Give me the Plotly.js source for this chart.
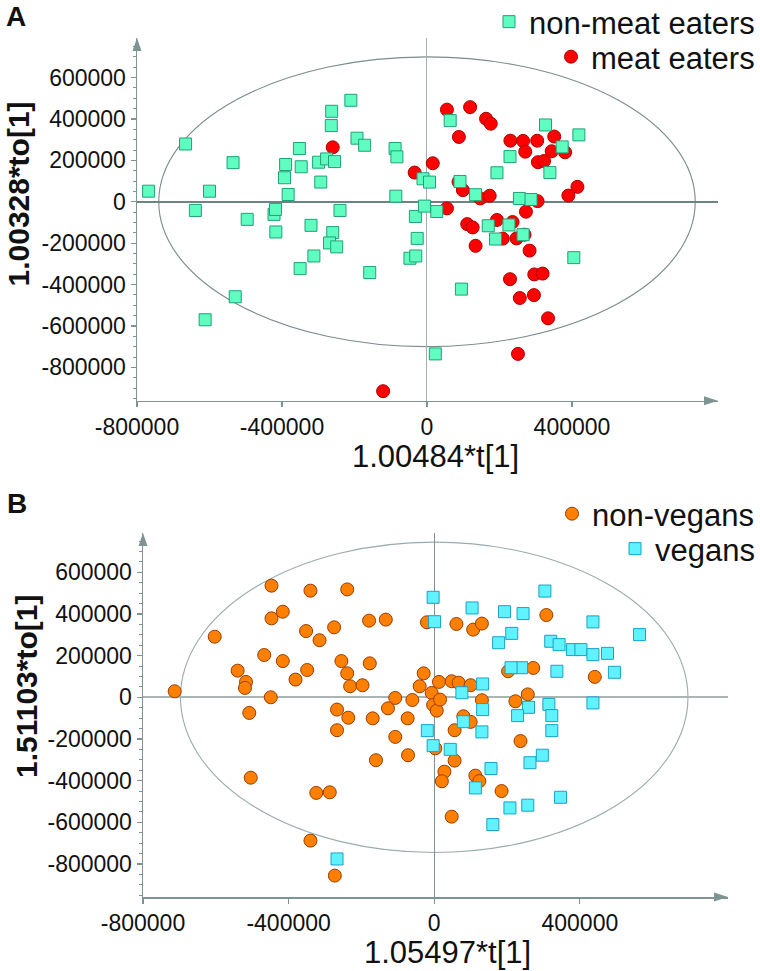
<!DOCTYPE html>
<html><head><meta charset="utf-8">
<script src="https://cdn.plot.ly/plotly-3.0.1.min.js"></script>
<style>html,body{margin:0;padding:0;background:#fff}#chart{width:760px;height:971px}</style>
</head><body><div id="chart"></div>
<script>
// ---------- Panel A: meat eaters vs non-meat eaters ----------
const xNonMeat = [-768000,-666000,-639000,-600000,-612000,-535000,-529000,-496000,-422000,-418000,-417000,-393000,-390000,-383000,-352000,-347000,-350000,-320000,-312000,-299000,-293000,-277000,-255000,-263000,-264000,-260000,-269000,-249000,-240000,-210000,-193000,-172000,-158000,-88000,-83000,-86000,-47000,-31000,-32000,-27000,-11000,7000,-7000,27000,23000,64000,91000,134000,95000,169000,189000,193000,226000,229000,255000,265000,287000,327000,339000,373000,405000,419000];
const yNonMeat = [51000,279000,-42000,51000,-570000,189000,-459000,-85000,-61000,-37000,-146000,116000,180000,35000,257000,169000,-323000,-114000,-262000,191000,95000,207000,194000,437000,368000,-149000,-199000,-218000,-42000,490000,307000,273000,-342000,257000,217000,27000,-273000,-262000,-71000,-177000,111000,95000,-21000,-47000,-735000,392000,98000,34000,-422000,-116000,-180000,140000,-112000,218000,16000,-159000,11000,371000,141000,265000,-270000,323000];
const xMeat = [-260000,-121000,-34000,16000,55000,119000,88000,163000,176000,55000,87000,99000,147000,173000,111000,126000,134000,193000,236000,209000,247000,269000,273000,283000,305000,229000,296000,319000,256000,295000,334000,251000,230000,265000,304000,271000,306000,323000,351000,344000,381000,390000,415000];
const yMeat = [263000,-915000,141000,186000,445000,457000,313000,401000,377000,-32000,96000,56000,16000,29000,-108000,-124000,-213000,-88000,-98000,-178000,-177000,-159000,-48000,-236000,3000,-374000,-351000,-347000,-465000,-451000,-563000,-735000,295000,294000,295000,242000,191000,197000,315000,244000,239000,30000,72000];

// ---------- Panel B: vegans vs non-vegans ----------
const xNonVegan = [-713000,-603000,-540000,-517000,-520000,-508000,-504000,-467000,-449000,-447000,-447000,-416000,-416000,-381000,-352000,-349000,-340000,-324000,-315000,-287000,-340000,-275000,-273000,-267000,-267000,-255000,-239000,-239000,-236000,-231000,-197000,-179000,-177000,-169000,-160000,-133000,-127000,-107000,-107000,-73000,-72000,-60000,-40000,-29000,-20000,-7000,-3000,7000,16000,13000,3000,48000,67000,100000,61000,107000,131000,131000,80000,100000,56000,56000,28000,21000,113000,124000,48000,185000,203000,223000,257000,272000,237000,308000,441000];
const yNonVegan = [29000,291000,128000,74000,45000,-75000,-386000,203000,0,536000,379000,411000,174000,85000,318000,131000,512000,-459000,274000,-456000,-688000,336000,-856000,-59000,-158000,174000,115000,518000,-98000,53000,58000,368000,163000,-101000,-302000,373000,-53000,-3000,-190000,-101000,-278000,-13000,53000,115000,360000,21000,-37000,-64000,-11000,74000,-245000,77000,70000,58000,352000,325000,354000,-14000,-91000,-118000,-158000,-304000,-357000,-403000,-376000,-402000,-573000,-450000,125000,-19000,14000,141000,-210000,395000,98000];
const xVegan = [-3000,1000,104000,193000,244000,304000,436000,564000,177000,213000,320000,343000,380000,403000,436000,476000,495000,337000,240000,211000,76000,133000,133000,259000,229000,315000,323000,323000,436000,-19000,-3000,131000,44000,80000,156000,263000,297000,113000,347000,208000,257000,161000,-267000];
const yVegan = [480000,363000,429000,411000,402000,510000,362000,301000,262000,307000,269000,253000,229000,229000,205000,211000,120000,125000,142000,142000,22000,64000,-59000,-48000,-88000,-34000,-88000,-160000,-27000,-160000,-232000,-166000,-250000,-117000,-342000,-314000,-278000,-435000,-480000,-531000,-518000,-611000,-776000];

// Hotelling ellipse semi-axes [t, to]
const ellipseA = [740000, 700000];
const ellipseB = [697000, 745000];

// ticks
const xTickVals = [-800000,-400000,0,400000];
const xTickText = ['-800000','-400000','0','400000'];
const yTickVals = [-800000,-600000,-400000,-200000,0,200000,400000,600000];
const yTickText = ['-800000','-600000','-400000','-200000','0','200000','400000','600000'];

const panelLabels = ['A','B'];
const xTitles = ['1.00484*t[1]','1.05497*t[1]'];
const yTitles = ['1.00328*to[1]','1.51103*to[1]'];
const seriesNames = ['non-meat eaters','meat eaters','non-vegans','vegans'];

// ---------- styling ----------
const FONT = 'Liberation Sans, Arial, sans-serif';
const AX = '#7f9393';
const W = 760, H = 971;
const px = v => v / W;
const py = v => 1 - v / H;

const traces = [
  {type:'scatter', mode:'markers', x:xMeat, y:yMeat, name:seriesNames[1], legend:'legend2', xaxis:'x', yaxis:'y',
   marker:{symbol:'circle', size:13, color:'#ff0000', line:{color:'#b00000', width:1}}},
  {type:'scatter', mode:'markers', x:xNonMeat, y:yNonMeat, name:seriesNames[0], legend:'legend', xaxis:'x', yaxis:'y',
   marker:{symbol:'square', size:12, color:'#5ffdc0', line:{color:'#20a07a', width:1}}},
  {type:'scatter', mode:'markers', x:xNonVegan, y:yNonVegan, name:seriesNames[2], legend:'legend3', xaxis:'x2', yaxis:'y2',
   marker:{symbol:'circle', size:13, color:'#ff8000', line:{color:'#9a3c00', width:1}}},
  {type:'scatter', mode:'markers', x:xVegan, y:yVegan, name:seriesNames[3], legend:'legend4', xaxis:'x2', yaxis:'y2',
   marker:{symbol:'square', size:12, color:'#60f3ff', line:{color:'#18a2c6', width:1}}}
];

const axBase = {
  showgrid:false, showline:true, linecolor:AX, linewidth:1.5, mirror:false, automargin:false,
  ticks:'outside', ticklen:5, tickwidth:1.2, tickcolor:AX,
  tickfont:{family:FONT, size:23, color:'#111'}, zeroline:true, fixedrange:true, tickmode:'array'
};
const minorY = {tickmode:'linear', tick0:0, dtick:50000, ticks:'outside', ticklen:3, tickwidth:1, tickcolor:AX, showgrid:false};

function legendAt(yPix){
  return {x:1, xanchor:'right', y:py(yPix), yanchor:'middle',
          font:{family:FONT, size:31, color:'#111'}, bgcolor:'rgba(0,0,0,0)', borderwidth:0,
          itemclick:false, itemdoubleclick:false};
}

function arrowShapes(xa, ya){
  return [
    {type:'path', xref:xa+' domain', yref:ya+' domain', xsizemode:'pixel', ysizemode:'pixel', xanchor:0, yanchor:1,
     path:'M -4.5,-13 L 4.5,-13 L 0,0 Z', fillcolor:AX, line:{width:0}},
    {type:'path', xref:xa+' domain', yref:ya+' domain', xsizemode:'pixel', ysizemode:'pixel', xanchor:1, yanchor:0,
     path:'M -14,-4.5 L -14,4.5 L 0,0 Z', fillcolor:AX, line:{width:0}}
  ];
}

const layout = {
  width:W, height:H, margin:{l:0, r:0, t:0, b:0, pad:0, autoexpand:false},
  paper_bgcolor:'#ffffff', plot_bgcolor:'rgba(0,0,0,0)', showlegend:true, hovermode:false,
  xaxis:Object.assign({}, axBase, {domain:[px(137), px(718)], range:[-800000, 802800], anchor:'y',
        tickvals:xTickVals, ticktext:xTickText, zerolinecolor:'#a3afaf', zerolinewidth:1}),
  yaxis:Object.assign({}, axBase, {domain:[py(400.7), py(38)], range:[-961000, 791000], anchor:'x',
        tickvals:yTickVals, ticktext:yTickText, zerolinecolor:'#6f8383', zerolinewidth:1.5, minor:minorY}),
  xaxis2:Object.assign({}, axBase, {domain:[px(143), px(728)], range:[-800000, 807000], anchor:'y2',
        tickvals:xTickVals, ticktext:xTickText, zerolinecolor:'#7f9191', zerolinewidth:1}),
  yaxis2:Object.assign({}, axBase, {domain:[py(897), py(533)], range:[-958700, 788800], anchor:'x2',
        tickvals:yTickVals, ticktext:yTickText, zerolinecolor:'#aab5b5', zerolinewidth:2.2, minor:minorY}),
  legend:legendAt(22), legend2:legendAt(57), legend3:legendAt(514), legend4:legendAt(549),
  shapes:[
    {type:'circle', xref:'x', yref:'y', x0:-ellipseA[0], x1:ellipseA[0], y0:-ellipseA[1], y1:ellipseA[1],
     line:{color:'#7a8c8c', width:1.1}, layer:'below'},
    {type:'circle', xref:'x2', yref:'y2', x0:-ellipseB[0], x1:ellipseB[0], y0:-ellipseB[1], y1:ellipseB[1],
     line:{color:'#9aabab', width:1.1}, layer:'below'}
  ].concat(arrowShapes('x','y'), arrowShapes('x2','y2')),
  annotations:[
    {text:'<b>'+panelLabels[0]+'</b>', xref:'paper', yref:'paper', x:px(16), y:py(17), xanchor:'center', yanchor:'middle', showarrow:false, font:{family:FONT, size:28, color:'#111'}},
    {text:'<b>'+panelLabels[1]+'</b>', xref:'paper', yref:'paper', x:px(17), y:py(503), xanchor:'center', yanchor:'middle', showarrow:false, font:{family:FONT, size:28, color:'#111'}},
    {text:xTitles[0], xref:'paper', yref:'paper', x:px(435.5), y:py(456), xanchor:'center', yanchor:'middle', showarrow:false, font:{family:FONT, size:31, color:'#111'}},
    {text:xTitles[1], xref:'paper', yref:'paper', x:px(447), y:py(952), xanchor:'center', yanchor:'middle', showarrow:false, font:{family:FONT, size:31, color:'#111'}},
    {text:'<b>'+yTitles[0]+'</b>', xref:'paper', yref:'paper', x:px(18.5), y:py(194), xanchor:'center', yanchor:'middle', textangle:-90, showarrow:false, font:{family:FONT, size:30, color:'#111'}},
    {text:'<b>'+yTitles[1]+'</b>', xref:'paper', yref:'paper', x:px(26), y:py(687), xanchor:'center', yanchor:'middle', textangle:-90, showarrow:false, font:{family:FONT, size:30, color:'#111'}}
  ]
};

Plotly.newPlot('chart', traces, layout, {displayModeBar:false, staticPlot:true, responsive:false});
</script></body></html>
